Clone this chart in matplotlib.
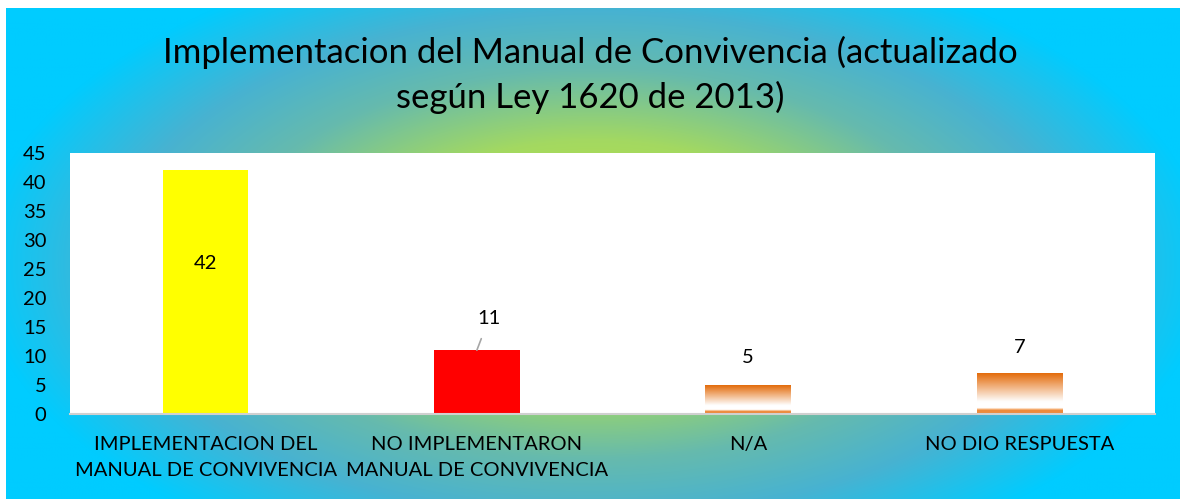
import numpy as np
import matplotlib
matplotlib.use('Agg')
import matplotlib.pyplot as plt
from matplotlib.colors import LinearSegmentedColormap

plt.rcParams['font.family'] = ['Lato', 'DejaVu Sans']

categories = ['IMPLEMENTACION DEL\nMANUAL DE CONVIVENCIA',
              'NO IMPLEMENTARON\nMANUAL DE CONVIVENCIA',
              'N/A',
              'NO DIO RESPUESTA']
values = [42, 11, 5, 7]
yticks = [0, 5, 10, 15, 20, 25, 30, 35, 40, 45]
title = 'Implementacion del Manual de Convivencia (actualizado\nsegún Ley 1620 de 2013)'

W, H = 1180, 499
fig = plt.figure(figsize=(W / 100, H / 100), dpi=100)
fig.patch.set_facecolor('white')

# radial background
bg = fig.add_axes([6 / W, 0, 1 - 6 / W, 1 - 8 / H])
bg.set_axis_off()
xx, yy = np.meshgrid(np.arange(W), np.arange(H))
r = np.sqrt(((xx - 590) / 620.0) ** 2 + ((yy - 260) / 330.0) ** 2)
r = np.clip(r, 0, 1)
bg_cmap = LinearSegmentedColormap.from_list('bg', [
    (0.0, (0.80, 0.90, 0.20)),
    (0.38, (0.64, 0.85, 0.38)),
    (0.60, (0.40, 0.73, 0.68)),
    (0.78, (0.28, 0.70, 0.82)),
    (1.0, (0.0, 0.80, 1.0))])
bg.imshow(r, cmap=bg_cmap, vmin=0, vmax=1, aspect='auto', interpolation='bilinear')

ax = fig.add_axes([70 / W, 85 / H, 1085 / W, 261 / H])
ax.set_facecolor('white')
x = np.arange(len(categories))
w = 0.315
ax.bar(x[0], values[0], width=w, color='#ffff00', zorder=2)
ax.bar(x[1], values[1], width=w, color='#ff0000', zorder=2)

# orange gradient bars
orange = np.array([0.89, 0.42, 0.04])
strip = np.array([0.95, 0.60, 0.32])
n = 200
prof = np.ones((n, 3))
for i in range(n):
    f = i / (n - 1)
    if f < 0.70:
        t = f / 0.70
        prof[i] = orange * (1 - t) + np.array([1, 1, 1]) * t
    elif f < 0.86:
        prof[i] = [1, 1, 1]
    elif f < 0.89:
        prof[i] = [0.98, 0.80, 0.65]
    else:
        prof[i] = strip * 0.7 + orange * 0.3
img = prof.reshape(n, 1, 3)
for i in [2, 3]:
    ax.imshow(img, extent=(x[i] - w / 2, x[i] + w / 2, 0, values[i]),
              aspect='auto', zorder=2, interpolation='bilinear')

ax.set_xlim(-0.5, 3.5)
ax.set_ylim(0, 45)
ax.set_yticks(yticks)
ax.set_xticks(x)
ax.set_xticklabels(categories, fontsize=14.5, linespacing=1.6)
ax.tick_params(axis='both', length=0, labelsize=14.5)
ax.tick_params(axis='y', pad=17)
ax.tick_params(axis='x', pad=16)
for s in ['top', 'left', 'right']:
    ax.spines[s].set_visible(False)
ax.spines['bottom'].set_color('#d0d0d0')
ax.spines['bottom'].set_linewidth(1.5)

# data labels
ax.text(x[0], 26, str(values[0]), ha='center', va='center', fontsize=14.5)
ax.annotate(str(values[1]), xy=(x[1], values[1]), xytext=(x[1] + 0.045, values[1] + 5.5),
            ha='center', va='center', fontsize=14.5,
            arrowprops=dict(arrowstyle='-', color='#a6a6a6', lw=1.2, shrinkA=7, shrinkB=0))
ax.text(x[2], values[2] + 4.7, str(values[2]), ha='center', va='center', fontsize=14.5)
ax.text(x[3], values[3] + 4.5, str(values[3]), ha='center', va='center', fontsize=14.5)

fig.text(0.5, 1 - 75 / H, title, ha='center', va='center', fontsize=25, linespacing=1.42)

fig.savefig('out.png', dpi=100)
